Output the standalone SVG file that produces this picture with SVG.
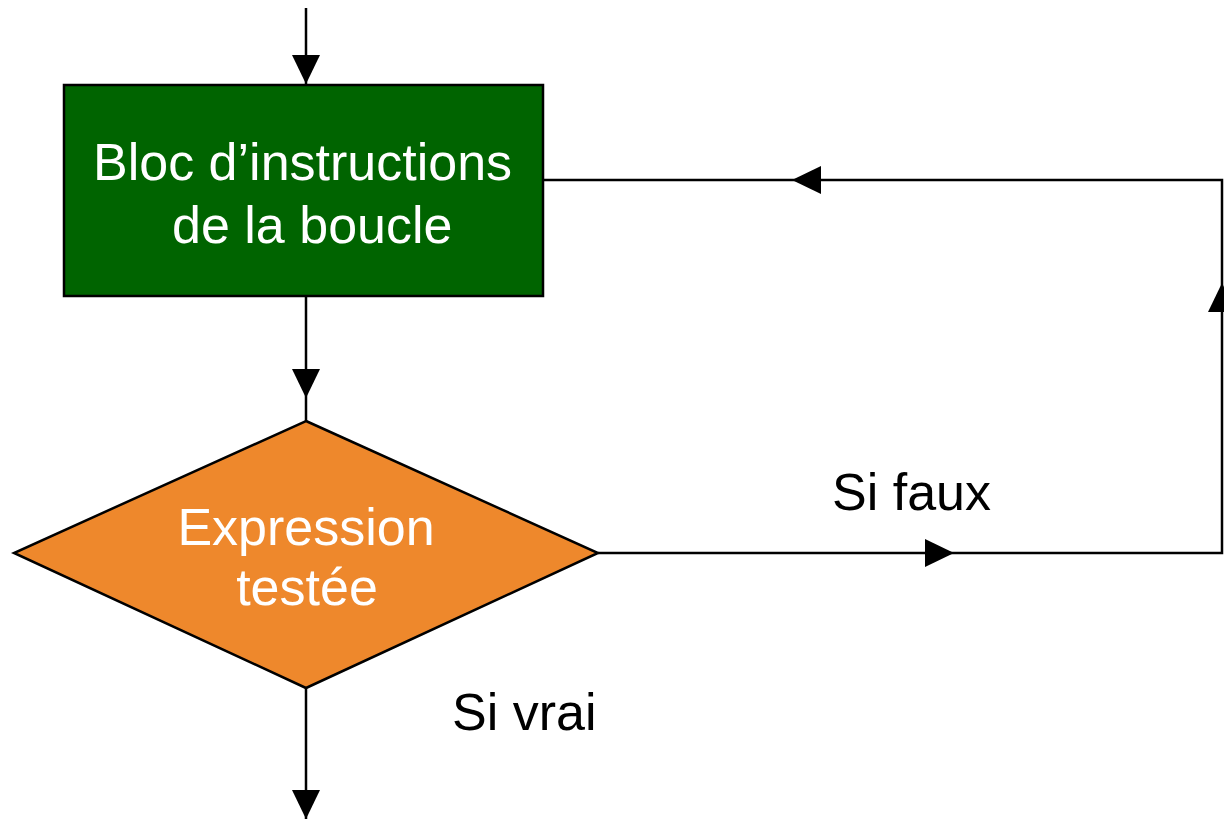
<svg xmlns="http://www.w3.org/2000/svg" width="1224" height="819" viewBox="0 0 1224 819">
  <style>
    .conn { fill: none; stroke: #000; stroke-width: 2.5; }
    .node-text { font-family: "Liberation Sans", Arial, sans-serif; font-size: 52px; fill: #fff; }
    .label { font-family: "Liberation Sans", Arial, sans-serif; font-size: 52px; fill: #000; }
  </style>
  <defs>
    <marker id="arrow" viewBox="0 0 29 28" refX="29" refY="14" markerUnits="userSpaceOnUse" markerWidth="29" markerHeight="28" orient="auto">
      <path d="M0,0 L29,14 L0,28 Z" fill="#000"/>
    </marker>
  </defs>
  <rect width="1224" height="819" fill="#fff"/>

  <g id="connectors">
    <!-- entry into the loop body -->
    <path class="conn" d="M306 8 V84" marker-end="url(#arrow)"/>
    <!-- body to test -->
    <path class="conn" d="M306 296 V398" marker-end="url(#arrow)"/>
    <path class="conn" d="M306 398 V421"/>
    <!-- true: exit -->
    <path class="conn" d="M306 688 V819" marker-end="url(#arrow)"/>
    <!-- false: back to the body -->
    <path class="conn" d="M598 553 H954" marker-end="url(#arrow)"/>
    <path class="conn" d="M954 553 H1222 V283" marker-end="url(#arrow)"/>
    <path class="conn" d="M1222 283 V180 H792" marker-end="url(#arrow)"/>
    <path class="conn" d="M792 180 H543"/>
  </g>

  <g id="bloc">
    <rect x="64" y="85" width="479" height="211" fill="#006400" stroke="#000" stroke-width="2.5"/>
    <text class="node-text" x="93" y="180">Bloc d’instructions</text>
    <text class="node-text" x="172" y="243">de la boucle</text>
  </g>

  <g id="test">
    <polygon points="306,421 598,553 306,688 14,553" fill="#EE882C" stroke="#000" stroke-width="2.5"/>
    <text class="node-text" x="306" y="545" text-anchor="middle">Expression</text>
    <text class="node-text" x="307" y="605" text-anchor="middle">testée</text>
  </g>

  <g id="labels">
    <text class="label" x="832" y="510">Si faux</text>
    <text class="label" x="452" y="730">Si vrai</text>
  </g>
</svg>
